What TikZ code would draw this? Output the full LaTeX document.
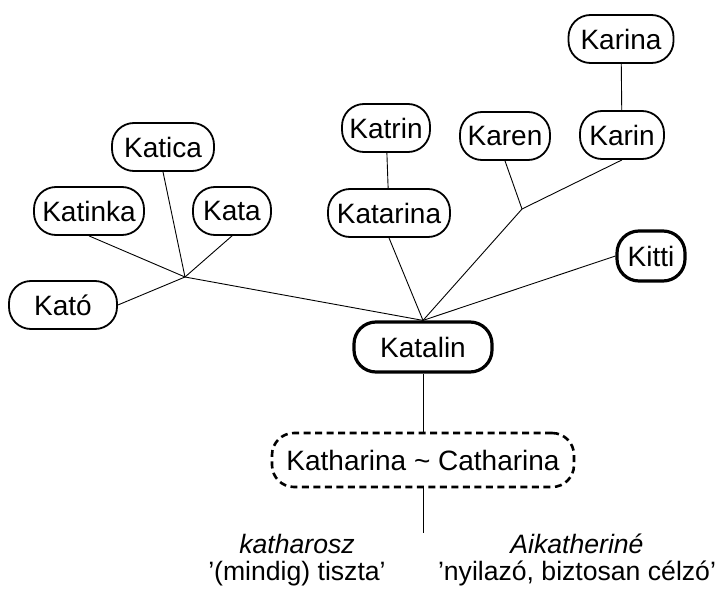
\documentclass[tikz,border=0pt]{standalone}
\usepackage{fontspec}
\setmainfont{Liberation Sans}
\begin{document}
\begin{tikzpicture}[x=1pt,y=-1pt,
  every node/.style={font=\fontsize{28}{31}\selectfont},
  namebox/.style={draw, line width=1.8pt, rounded corners=22pt, minimum height=48pt, inner xsep=0pt, inner ysep=0pt},
  mainbox/.style={namebox, line width=3.2pt, minimum height=50pt},
  origbox/.style={namebox, line width=2.6pt, dash pattern=on 7pt off 4.5pt, minimum height=54pt},
  gloss/.style={align=center, inner sep=0pt, font=\fontsize{26.6}{29}\selectfont},
  link/.style={line width=0.9pt}]
\useasboundingbox (0,0) rectangle (719,591);
\node[namebox, minimum width=105pt] (karina) at (621,39) {Karina};
\node[namebox, minimum width=84pt] (karin) at (622,135) {Karin};
\node[namebox, minimum width=90pt] (karen) at (505,136) {Karen};
\node[namebox, minimum width=88pt] (katrin) at (386,128) {Katrin};
\node[namebox, minimum width=122pt] (katarina) at (389,213) {Katarina};
\node[namebox, minimum width=102pt] (katica) at (163,147) {Katica};
\node[namebox, minimum width=110pt] (katinka) at (89,211) {Katinka};
\node[namebox, minimum width=78pt] (kata) at (232,211) {Kata};
\node[namebox, minimum width=108pt] (kato) at (63,305) {Kató};
\node[mainbox, minimum width=68pt] (kitti) at (651,256) {Kitti};
\node[mainbox, minimum width=138pt] (katalin) at (423,347) {Katalin};
\node[origbox, minimum width=302pt] (katharina) at (423,460) {Katharina \char`~\ Catharina};
\coordinate (hubL) at (185,277);
\coordinate (hubR) at (522,209);
\coordinate (rootend) at (423,533);
\node[gloss] (greek1) at (297,560) {\textit{katharosz}\\[-2pt]’(mindig) tiszta’};
\node[gloss] (greek2) at (577,560) {\textit{Aikatheriné}\\[-2pt]’nyilazó, biztosan célzó’};
\draw[link] (katalin.north) -- (hubL);
\draw[link] (hubL) -- (kato.east);
\draw[link] (hubL) -- (katinka.south);
\draw[link] (hubL) -- (katica.south);
\draw[link] (hubL) -- (kata.south);
\draw[link] (katalin.north) -- (katarina.south);
\draw[link] (katalin.north) -- (hubR);
\draw[link] (hubR) -- (karen.south);
\draw[link] (hubR) -- (karin.south);
\draw[link] (katalin.north) -- (kitti.west);
\draw[link] (katrin) -- (katarina);
\draw[link] (karina) -- (karin);
\draw[link] (katalin) -- (katharina);
\draw[link] (katharina.south) -- (rootend);
\end{tikzpicture}
\end{document}
